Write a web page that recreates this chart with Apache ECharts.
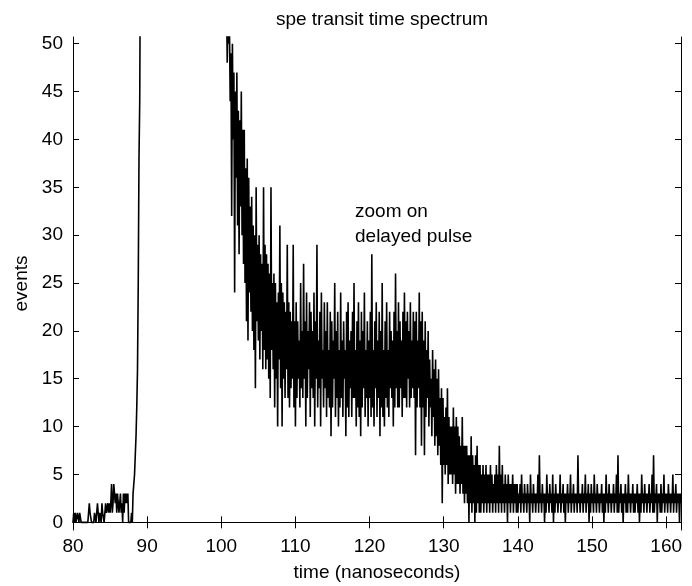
<!DOCTYPE html>
<html>
<head>
<meta charset="utf-8">
<script src="https://cdn.jsdelivr.net/npm/echarts@6/dist/echarts.min.js"></script>
<style>
html,body{margin:0;padding:0;background:#fff;}
#chart{width:692px;height:586px;}
</style>
</head>
<body>
<div id="chart"></div>
<script>
// Histogram: bin start and width (ns)
const binStart = 80.0;
const binWidth = 0.1;

// counts per 0.1 ns bin, 80.0 - 89.9
const counts80 = [
0,1,0,1,0,0,1,1,0,1,
1,0,0,0,0,0,0,0,0,0,
0,1,2,1,1,0,0,0,0,1,
1,0,1,2,1,0,1,1,0,2,
1,1,0,1,2,1,1,2,1,2,
1,2,4,1,2,4,3,2,3,1,
3,2,1,2,3,1,2,0,3,1,
3,2,3,2,3,0,0,0,0,1,
0,3,4,5,7,9,12,16,25,38,
44,62,85,120,160,210,270,340,420,500];
// 90.0 - 99.9 (prompt peak, off scale)
const counts90 = [
580,650,720,790,850,900,940,960,970,960,
940,910,870,830,790,750,700,660,620,580,
545,510,480,450,420,395,370,350,330,310,
292,276,260,246,232,220,208,197,187,178,
170,162,155,148,142,136,130,125,120,116,
112,108,104,101,98,95,92,90,88,85,
83,81,79,77,75,74,72,71,70,68,
67,66,65,64,63,62,61,61,60,59,
63,60,66,59,62,64,58,61,57,60,
58,62,55,60,57,54,59,56,53,57];
// 100.0 - 109.9
const counts100 = [
56,60,54,58,52,57,51,55,48,53,
50,52,44,49,32,50,40,47,24,45,
36,47,31,43,28,42,33,45,30,41,
27,41,25,37,21,38,19,36,24,33,
22,34,20,31,18,30,14,35,21,29,
19,30,17,28,20,27,16,35,18,29,
16,28,17,27,15,26,13,35,18,25,
16,26,12,25,15,23,10,24,17,31,
14,25,10,24,15,23,13,22,16,29,
13,23,12,22,14,21,15,29,12,21];
// 110.0 - 119.9
const counts110 = [
10,23,13,21,15,19,12,25,14,20,
13,27,15,21,10,24,13,20,16,23,
11,22,14,20,13,24,10,21,15,29,
12,19,14,22,10,24,15,18,12,23,
14,20,11,23,13,18,12,22,9,21,
12,19,15,25,11,20,13,22,10,18,
12,24,13,19,11,21,15,18,9,22,
12,23,11,19,14,20,11,22,13,25,
13,18,10,21,12,23,11,19,9,22,
12,20,14,24,11,18,13,21,10,19];
// 120.0 - 129.9 (delayed pulse)
const counts120 = [
13,22,11,28,12,18,10,21,14,23,
11,19,13,22,9,20,12,25,11,18,
10,21,13,23,12,18,11,22,14,20,
13,19,10,22,12,26,14,20,12,23,
12,21,14,19,11,22,13,24,13,21,
12,22,15,20,12,23,13,19,14,22,
13,21,7,22,12,19,14,24,12,21,
8,22,12,19,7,21,11,18,13,20,
10,17,12,15,9,18,11,16,8,17,
9,15,7,16,8,13,6,14,2,13];
// 130.0 - 139.9
const counts130 = [
6,11,5,12,6,14,4,11,5,10,
5,10,4,12,5,10,3,11,4,10,
4,9,3,8,4,11,3,8,2,8,
3,8,2,7,0,7,2,9,1,7,
2,6,0,7,1,8,2,6,1,6,
1,5,2,6,1,5,2,6,1,5,
2,5,1,6,2,5,1,4,2,5,
1,6,2,5,1,8,2,5,1,6,
2,4,1,5,2,4,0,5,2,4,
1,4,2,5,1,4,2,4,1,4];
// 140.0 - 149.9
const counts140 = [
1,3,2,4,1,5,2,3,1,4,
2,3,1,4,2,3,0,5,2,3,
1,4,2,3,1,3,2,5,1,7,
2,3,1,4,2,3,0,3,1,5,
2,3,1,4,2,3,1,5,0,3,
1,4,2,3,1,3,2,5,1,3,
2,4,1,3,0,3,2,4,1,3,
2,5,1,3,2,4,1,3,2,3,
1,7,2,3,1,3,2,4,1,3,
2,5,1,3,2,4,0,3,1,4];
// 150.0 - 159.9
const counts150 = [
2,3,1,5,2,3,1,4,2,3,
1,3,2,4,1,3,0,3,1,5,
2,3,1,4,2,3,1,3,2,4,
1,3,2,5,1,7,1,3,2,4,
1,3,0,3,2,4,1,3,1,5,
2,3,1,3,2,4,1,3,1,3,
2,4,1,3,0,3,1,5,2,3,
1,4,2,3,1,3,2,4,1,3,
2,5,1,7,1,3,2,4,0,3,
2,3,1,4,1,3,2,5,1,3];
// 160.0 - 162.0
const counts160 = [
2,3,1,4,2,3,1,3,2,5,
1,3,2,4,1,3,2,3,0,3,
2];

const xTicks = [80, 90, 100, 110, 120, 130, 140, 150, 160];
const yTicks = [0, 5, 10, 15, 20, 25, 30, 35, 40, 45, 50];

const allCounts = [].concat(counts80, counts90, counts100, counts110, counts120,
  counts130, counts140, counts150, counts160);
const seriesData = allCounts.map((v, i) => [+(binStart + i * binWidth).toFixed(1), v]);

const FONT = '"Liberation Sans", Arial, Helvetica, sans-serif';
const FS = 19;

const chart = echarts.init(document.getElementById('chart'), null, {renderer: 'canvas'});
const axisLine = {show: true, lineStyle: {color: '#000', width: 1}};
const tick = {show: true, inside: true, length: 6, lineStyle: {color: '#000', width: 1}};

chart.setOption({
  animation: false,
  backgroundColor: '#fff',
  title: {
    text: 'spe transit time spectrum',
    left: 377, top: 5, textAlign: 'center',
    textStyle: {fontFamily: FONT, fontSize: FS, fontWeight: 'normal', color: '#000'}
  },
  grid: {left: 73, right: 11, top: 37, bottom: 56, containLabel: false, outerBoundsMode: 'none'},
  xAxis: [{
    type: 'value', min: 80, max: 162, interval: 10,
    position: 'bottom',
    axisLine: axisLine,
    axisTick: Object.assign({}, tick, {customValues: xTicks}),
    axisLabel: {customValues: xTicks, color: '#000', fontFamily: FONT, fontSize: FS, margin: 7},
    splitLine: {show: false},
    name: 'time (nanoseconds)', nameLocation: 'middle', nameGap: 33,
    nameTextStyle: {color: '#000', fontFamily: FONT, fontSize: FS}
  }, {
    type: 'value', min: 80, max: 162, interval: 10,
    position: 'top',
    axisLine: axisLine,
    axisTick: Object.assign({}, tick, {customValues: xTicks}),
    axisLabel: {show: false},
    splitLine: {show: false}
  }],
  yAxis: [{
    type: 'value', min: -0.8, max: 50.7,
    position: 'left',
    axisLine: axisLine,
    axisTick: Object.assign({}, tick, {customValues: yTicks}),
    axisLabel: {customValues: yTicks, color: '#000', fontFamily: FONT, fontSize: FS, margin: 10},
    splitLine: {show: false},
    name: 'events', nameLocation: 'middle', nameGap: 30, nameRotate: 90,
    nameTextStyle: {color: '#000', fontFamily: FONT, fontSize: FS}
  }, {
    type: 'value', min: -0.8, max: 50.7,
    position: 'right',
    axisLine: axisLine,
    axisTick: Object.assign({}, tick, {customValues: yTicks}),
    axisLabel: {show: false},
    splitLine: {show: false}
  }],
  graphic: [
    {type: 'text', left: 355, top: 202, style: {text: 'zoom on', fill: '#000', font: FS + 'px ' + FONT}},
    {type: 'text', left: 355, top: 227, style: {text: 'delayed pulse', fill: '#000', font: FS + 'px ' + FONT}}
  ],
  series: [{
    type: 'line',
    data: seriesData,
    xAxisIndex: 0, yAxisIndex: 0,
    showSymbol: false, symbol: 'none',
    sampling: null,
    clip: true,
    lineStyle: {color: '#000', width: 1.6},
    emphasis: {disabled: true}
  }]
});
</script>
</body>
</html>
